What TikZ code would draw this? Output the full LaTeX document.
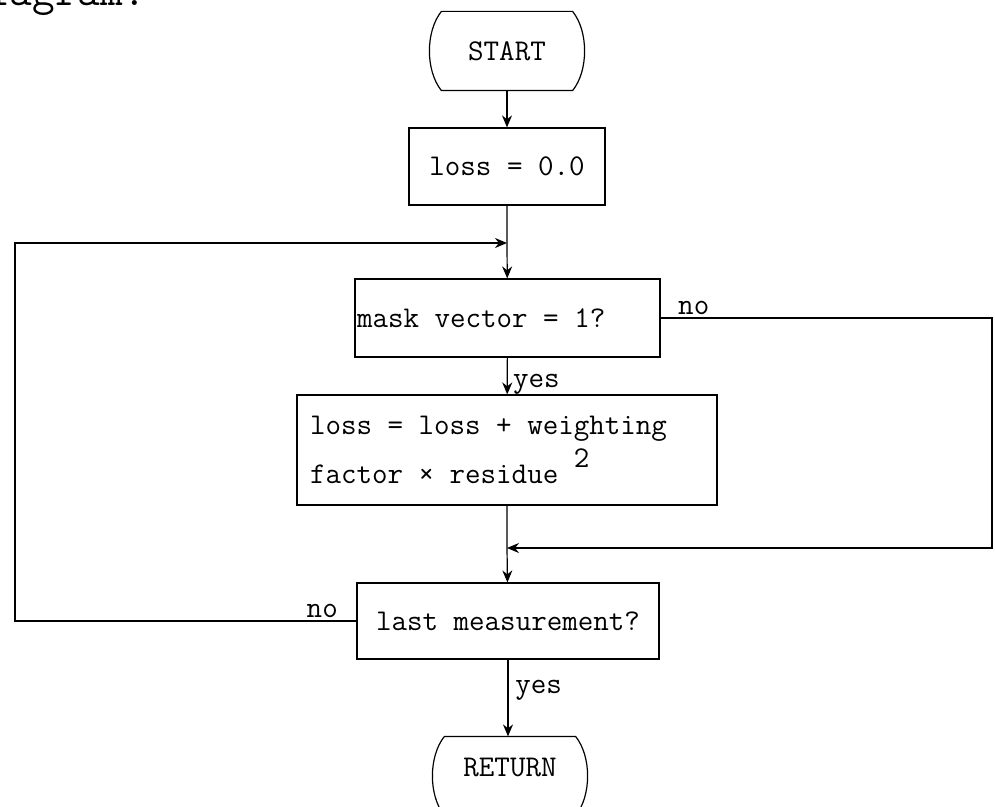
\documentclass[tikz,border=0pt]{standalone}
\usepackage{fontspec}
\usetikzlibrary{arrows.meta}
\begin{document}
\begin{tikzpicture}[line cap=butt,line join=miter,>={Stealth[length=9pt,width=7.5pt]},x=0.75pt,y=-0.75pt,line width=0.9pt,font=\ttfamily\fontsize{22.6}{37}\selectfont]
	\tikzset{box/.style={draw,inner sep=0pt},
		term/.style={inner sep=0pt,minimum width=97.5pt,minimum height=58.5pt},
		lbl/.style={inner sep=2pt}}
	\useasboundingbox (0,0) rectangle (995,806);
	\node[anchor=base west,inner sep=0pt,font=\ttfamily\fontsize{33}{34}\selectfont] (head) at (-36,6) {diagram:};
	\node[term] (start) at (507,51) {START};
	\node[box,minimum width=147pt,minimum height=57.75pt] (init) at (507,166.5) {loss = 0.0};
	\node[box,minimum height=58.5pt,text width=225.75pt,inner xsep=1.5pt,align=flush left] (mask) at (507.5,318) {mask vector = 1?};
	\node[box,minimum height=82.5pt,text width=295.5pt,inner xsep=9.75pt,align=flush left] (calc) at (507,450) {loss = loss + weighting\\factor × residue \raisebox{12pt}{2}};
	\node[box,minimum width=226.5pt,minimum height=57pt] (last) at (508,621) {last measurement?};
	\node[term,text depth=13.5pt] (ret) at (510,776) {RETURN};
	\foreach \n in {start,ret}{
		\draw (\n.north west) .. controls +(-16,20) and +(-16,-20) .. (\n.south west) -- (\n.south east)
			.. controls +(16,-20) and +(16,20) .. (\n.north east) -- cycle;}
	\coordinate (joina) at (507,243);
	\coordinate (joinb) at (507,548);
	\coordinate (lft) at (15,0);
	\coordinate (rgt) at (992,0);
	\draw[->] (start.south -| init.north) -- (init.north);
	\draw[->] (init) -- (joina) -- (mask);
	\draw[->] (mask) -- node[pos=.72,right,lbl,inner xsep=4pt]{yes} (calc);
	\draw[->] (calc) -- (joinb) -- (last);
	\draw[->] (last) -- node[pos=.4,right,lbl,inner xsep=5pt]{yes} (ret.north -| last.south);
	\draw[->] (last.west) -- node[pos=.1,above,lbl]{no} (last.west -| lft) |- (joina);
	\draw[->] (mask.east) -- node[pos=.1,above,lbl]{no} (mask.east -| rgt) |- (joinb);
\end{tikzpicture}
\end{document}
